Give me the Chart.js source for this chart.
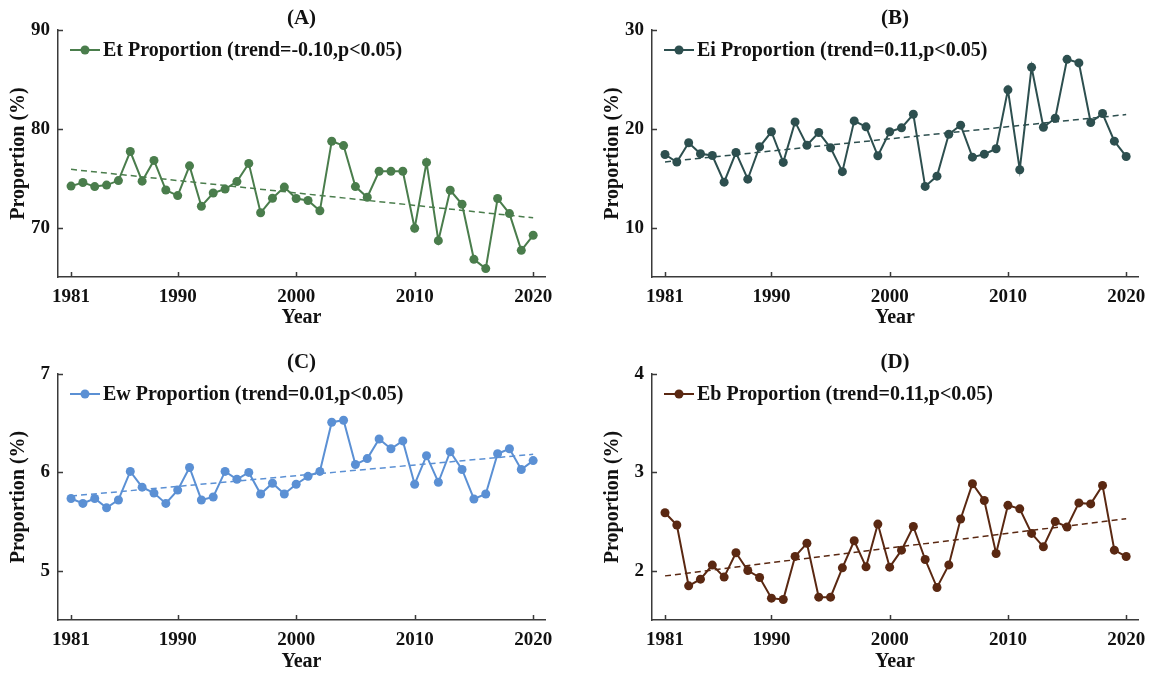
<!DOCTYPE html>
<html>
<head>
<meta charset="utf-8">
<script src="https://cdn.jsdelivr.net/npm/chart.js@4.4.0/dist/chart.umd.min.js"></script>
<style>
  html, body { margin: 0; padding: 0; background: #ffffff; width: 1162px; height: 675px; overflow: hidden; }
  canvas { position: absolute; display: block; }
</style>
</head>
<body>
<canvas id="cA" width="581" height="337" style="left:0px;top:0px;width:581px;height:337px"></canvas>
<canvas id="cB" width="568" height="337" style="left:594px;top:0px;width:568px;height:337px"></canvas>
<canvas id="cC" width="581" height="331" style="left:0px;top:344px;width:581px;height:331px"></canvas>
<canvas id="cD" width="568" height="331" style="left:594px;top:344px;width:568px;height:331px"></canvas>
<script>
// Years of record
const years = [1981, 1982, 1983, 1984, 1985, 1986, 1987, 1988, 1989, 1990,
               1991, 1992, 1993, 1994, 1995, 1996, 1997, 1998, 1999, 2000,
               2001, 2002, 2003, 2004, 2005, 2006, 2007, 2008, 2009, 2010,
               2011, 2012, 2013, 2014, 2015, 2016, 2017, 2018, 2019, 2020];

// Share of each evaporation component (%)
const etProportion = [74.2, 74.56, 74.15, 74.3, 74.76, 77.7, 74.7, 76.8, 73.8, 73.24,
                      76.25, 72.16, 73.5, 73.9, 74.66, 76.5, 71.5, 72.97, 74.1, 72.95,
                      72.74, 71.7, 78.74, 78.3, 74.15, 73.07, 75.7, 75.7, 75.7, 69.93,
                      76.6, 68.68, 73.78, 72.36, 66.79, 65.85, 72.94, 71.42, 67.7, 69.22];
const eiProportion = [17.4, 16.63, 18.59, 17.47, 17.3, 14.6, 17.6, 14.9, 18.18, 19.7,
                      16.6, 20.7, 18.34, 19.63, 18.08, 15.66, 20.8, 20.2, 17.27, 19.7,
                      20.1, 21.47, 14.17, 15.21, 19.45, 20.37, 17.13, 17.43, 17.98, 23.94,
                      15.86, 26.22, 20.16, 21.07, 27.03, 26.67, 20.64, 21.55, 18.75, 17.2];
const ewProportion = [5.735, 5.685, 5.735, 5.64, 5.72, 6.01, 5.85, 5.79, 5.685, 5.82,
                      6.05, 5.72, 5.75, 6.01, 5.93, 6.0, 5.78, 5.89, 5.78, 5.88,
                      5.96, 6.01, 6.51, 6.53, 6.08, 6.14, 6.34, 6.24, 6.32, 5.88,
                      6.17, 5.9, 6.21, 6.03, 5.73, 5.78, 6.19, 6.24, 6.03, 6.12];
const ebProportion = [2.59, 2.465, 1.847, 1.915, 2.058, 1.936, 2.183, 2.003, 1.932, 1.722,
                      1.708, 2.146, 2.28, 1.732, 1.732, 2.03, 2.305, 2.04, 2.475, 2.037,
                      2.21, 2.45, 2.115, 1.83, 2.06, 2.526, 2.885, 2.715, 2.176, 2.665,
                      2.63, 2.38, 2.244, 2.5, 2.445, 2.69, 2.68, 2.868, 2.21, 2.145];

// Axis tick labels
const yearTicks = [1981, 1990, 2000, 2010, 2020];
const etTicks = [70, 80, 90];
const eiTicks = [10, 20, 30];
const ewTicks = [5, 6, 7];
const ebTicks = [2, 3, 4];

// Legend texts
const etLabel = 'Et Proportion (trend=-0.10,p<0.05)';
const eiLabel = 'Ei Proportion (trend=0.11,p<0.05)';
const ewLabel = 'Ew Proportion (trend=0.01,p<0.05)';
const ebLabel = 'Eb Proportion (trend=0.11,p<0.05)';

const FONT = "'Liberation Serif', 'Times New Roman', serif";
const AXIS_COLOR = '#3a3a3a';
const TEXT_COLOR = '#111111';

// Ordinary least-squares line through a series
function leastSquares(xs, ys) {
  const n = xs.length;
  let sx = 0, sy = 0, sxx = 0, sxy = 0;
  for (let i = 0; i < n; i++) { sx += xs[i]; sy += ys[i]; sxx += xs[i] * xs[i]; sxy += xs[i] * ys[i]; }
  const slope = (n * sxy - sx * sy) / (n * sxx - sx * sx);
  const icept = (sy - slope * sx) / n;
  return [xs[0], xs[n - 1]].map(x => ({ x: x, y: icept + slope * x }));
}

// Inward tick marks, panel letter and an in-plot legend
const panelDecor = {
  id: 'panelDecor',
  afterDraw(chart, args, opts) {
    const ctx = chart.ctx;
    const area = chart.chartArea;
    const xs = chart.scales.x, ys = chart.scales.y;
    ctx.save();
    ctx.strokeStyle = AXIS_COLOR;
    ctx.lineWidth = 1.5;
    ctx.beginPath();
    xs.ticks.forEach(t => {
      const px = Math.round(xs.getPixelForValue(t.value)) + 0.5;
      ctx.moveTo(px, area.bottom);
      ctx.lineTo(px, area.bottom - 5);
    });
    ys.ticks.forEach(t => {
      const py = Math.round(ys.getPixelForValue(t.value)) + 0.5;
      ctx.moveTo(area.left, py);
      ctx.lineTo(area.left + 5, py);
    });
    ctx.stroke();

    // panel letter
    ctx.fillStyle = TEXT_COLOR;
    ctx.font = 'bold 21px ' + FONT;
    ctx.textAlign = 'center';
    ctx.textBaseline = 'middle';
    ctx.fillText(opts.letter, (area.left + area.right) / 2, area.top - 11);

    // legend entry
    const ds = chart.data.datasets[0];
    const ly = area.top + 20;
    const lx = area.left + 12;
    ctx.strokeStyle = ds.borderColor;
    ctx.lineWidth = 2;
    ctx.beginPath();
    ctx.moveTo(lx, ly);
    ctx.lineTo(lx + 30, ly);
    ctx.stroke();
    ctx.fillStyle = ds.borderColor;
    ctx.beginPath();
    ctx.arc(lx + 15, ly, 4.5, 0, Math.PI * 2);
    ctx.fill();
    ctx.fillStyle = TEXT_COLOR;
    ctx.font = 'bold 20px ' + FONT;
    ctx.textAlign = 'left';
    ctx.fillText(ds.label, lx + 33, ly + 1);
    ctx.restore();
  }
};

function makePanel(id, letter, label, values, color, yMin, yMax, yTickValues, padRight, xAxisHeight, yearPadBottom) {
  const series = years.map((yr, i) => ({ x: yr, y: values[i] }));
  new Chart(document.getElementById(id), {
    type: 'line',
    data: {
      datasets: [
        {
          label: label,
          data: series,
          borderColor: color,
          backgroundColor: color,
          borderWidth: 2,
          pointRadius: 4.5,
          pointBorderWidth: 0,
          pointBackgroundColor: color,
          tension: 0
        },
        {
          label: 'trend',
          data: leastSquares(years, values),
          borderColor: color,
          borderWidth: 1.5,
          borderDash: [6, 4],
          pointRadius: 0,
          tension: 0
        }
      ]
    },
    options: {
      responsive: false,
      animation: false,
      devicePixelRatio: 1,
      layout: { padding: { left: 0, right: padRight, top: 30, bottom: 0 } },
      plugins: {
        legend: { display: false },
        tooltip: { enabled: false },
        title: { display: false },
        panelDecor: { letter: letter }
      },
      scales: {
        x: {
          type: 'linear',
          min: 1979.9,
          max: 2021,
          grid: { display: false, drawTicks: false },
          border: { display: true, color: AXIS_COLOR, width: 1.5 },
          afterBuildTicks: s => { s.ticks = yearTicks.map(v => ({ value: v })); },
          afterFit: s => { s.height = xAxisHeight; },
          ticks: {
            padding: 9,
            maxRotation: 0,
            autoSkip: false,
            color: TEXT_COLOR,
            font: { family: FONT, size: 19, weight: 'bold' },
            callback: v => String(v)
          },
          title: {
            display: true,
            text: 'Year',
            color: TEXT_COLOR,
            font: { family: FONT, size: 20, weight: 'bold' },
            padding: { top: 0, bottom: yearPadBottom }
          }
        },
        y: {
          type: 'linear',
          min: yMin,
          max: yMax,
          grid: { display: false, drawTicks: false },
          border: { display: true, color: AXIS_COLOR, width: 1.5 },
          afterBuildTicks: s => { s.ticks = yTickValues.map(v => ({ value: v })); },
          afterFit: s => { s.width = 58; },
          ticks: {
            padding: 8,
            color: TEXT_COLOR,
            font: { family: FONT, size: 19, weight: 'bold' },
            callback: v => String(v)
          },
          title: {
            display: true,
            text: 'Proportion (%)',
            color: TEXT_COLOR,
            font: { family: FONT, size: 20, weight: 'bold' },
            padding: { top: 7, bottom: 0 }
          }
        }
      }
    },
    plugins: [panelDecor]
  });
}

makePanel('cA', '(A)', etLabel, etProportion, '#4a7d4c', 65, 90, etTicks, 36, 60, 7);
makePanel('cB', '(B)', eiLabel, eiProportion, '#2d4f4f', 5, 30, eiTicks, 24, 60, 7);
makePanel('cC', '(C)', ewLabel, ewProportion, '#5b90d4', 4.5, 7, ewTicks, 36, 55, 1);
makePanel('cD', '(D)', ebLabel, ebProportion, '#5a2812', 1.5, 4, ebTicks, 24, 55, 1);
</script>
</body>
</html>
